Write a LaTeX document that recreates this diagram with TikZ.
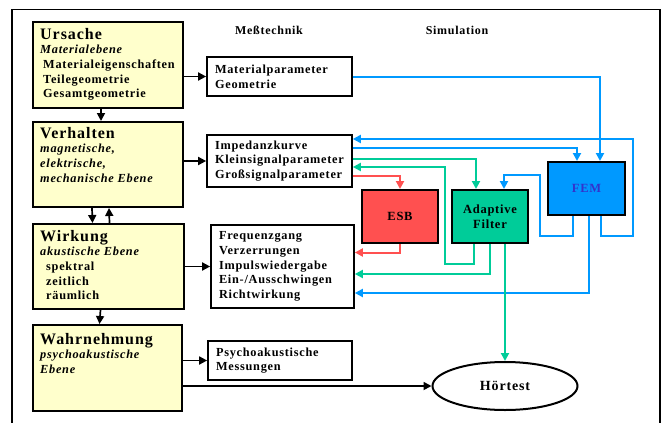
\documentclass[tikz,border=0pt]{standalone}
\usepackage{fontspec}
\setmainfont{Liberation Serif}[LetterSpace=6]
\usepackage{xcolor}
\usetikzlibrary{arrows.meta,shapes.geometric}

\definecolor{ebene}{HTML}{FFFFCC}
\definecolor{esbrot}{HTML}{FF5050}
\definecolor{filtergruen}{HTML}{00CC99}
\definecolor{femblau}{HTML}{0099FF}
\definecolor{femtext}{HTML}{3333CC}

\tikzset{
	ebenebox/.style={draw, line width=2pt, fill=ebene, minimum width=150pt, minimum height=86pt, inner sep=0pt},
	ebenetext/.style={anchor=north west, inner sep=0pt, align=left, font=\bfseries\fontsize{12.3}{14.6}\selectfont},
	messbox/.style={draw, line width=1.7pt, fill=white, text width=129pt, inner xsep=8pt, align=left,
		font=\bfseries\fontsize{12.3}{14.6}\selectfont},
	simbox/.style={draw, line width=2pt, minimum width=76pt, minimum height=53pt, align=center,
		font=\bfseries\fontsize{12.5}{14.5}\selectfont},
	pfeil/.style={line width=1.7pt, -{Triangle[length=8pt,width=8pt]}},
	blaupfeil/.style={pfeil, femblau, line width=2pt},
	gruenpfeil/.style={pfeil, filtergruen, line width=2pt},
	rotpfeil/.style={pfeil, esbrot, line width=2pt}
}

\newcommand{\titel}[1]{{\fontsize{16}{15}\selectfont #1}}

\begin{document}
\begin{tikzpicture}[x=1pt, y=-1pt]
	\useasboundingbox (0,0) rectangle (664,423);
	% outer frame
	\draw[line width=1.6pt] (12,423) -- (12,9.5) -- (660,9.5) -- (660,423);

	\node[font=\bfseries\fontsize{12}{14}\selectfont] (mess) at (269,30) {Meßtechnik};
	\node[font=\bfseries\fontsize{12}{14}\selectfont] (sim) at (457,30) {Simulation};

	% levels on the left
	\node[ebenebox] (urs) at (108,65) {};
	\node[ebenebox, minimum height=85pt] (verh) at (108,164.5) {};
	\node[ebenebox, minimum height=85pt, minimum width=151pt] (wirk) at (108.5,266.5) {};
	\node[ebenebox, minimum width=149pt] (wahr) at (107.5,368) {};

	\node[ebenetext] (urs-t) at ([shift={(8pt,-7pt)}]urs.north west)
		{\titel{Ursache}\\ \textit{Materialebene}\\ \hspace{3pt}Materialeigenschaften\\ \hspace{3pt}Teilegeometrie\\ \hspace{3pt}Gesamtgeometrie};
	\node[ebenetext] (verh-t) at ([shift={(8pt,-6pt)}]verh.north west)
		{\titel{Verhalten}\\ \textit{magnetische,}\\ \textit{elektrische,}\\ \textit{mechanische Ebene}};
	\node[ebenetext] (wirk-t) at ([shift={(8pt,-7pt)}]wirk.north west)
		{\titel{Wirkung}\\ \textit{akustische Ebene}\\ \hspace{6pt}spektral\\ \hspace{6pt}zeitlich\\ \hspace{6pt}räumlich};
	\node[ebenetext] (wahr-t) at ([shift={(8pt,-9pt)}]wahr.north west)
		{\titel{Wahrnehmung}\\ \textit{psychoakustische}\\ \textit{Ebene}};

	% measurement boxes
	\node[messbox, minimum height=39pt] (matpar) at (279.5,76.5) {Materialparameter\\Geometrie};
	\node[messbox, minimum height=52pt] (imp) at (279.5,161) {Impedanzkurve\\Kleinsignalparameter\\Großsignalparameter};
	\node[messbox, minimum height=83pt, text width=127pt] (freq) at (282.5,266.5)
		{Frequenzgang\\Verzerrungen\\Impulswiedergabe\\Ein-/Ausschwingen\\Richtwirkung};
	\node[messbox, minimum height=39pt, text width=128pt] (psy) at (280,360.5) {Psychoakustische\\Messungen};

	% simulation boxes
	\node[simbox, fill=esbrot] (esb) at (400,216.5) {ESB};
	\node[simbox, fill=filtergruen] (af) at (490,216.5) {Adaptive\\Filter};
	\node[simbox, fill=femblau, minimum width=77pt, text=femtext] (fem) at (586.5,188.5) {FEM};

	\node[draw, ellipse, line width=2pt, minimum width=145pt, minimum height=48pt,
		font=\bfseries\fontsize{14}{14}\selectfont] (hoer) at (505,386) {Hörtest};

	% black connections
	\draw[pfeil] ([xshift=-7pt]urs.south) -- ([xshift=-7pt]verh.north);
	\draw[pfeil] ([xshift=-16pt]verh.south) -- ([xshift=-16pt]wirk.north);
	\draw[pfeil] ([xshift=1pt]wirk.north) -- ([xshift=1pt]verh.south);
	\draw[pfeil] ([xshift=-8pt]wirk.south) -- ([xshift=-8pt]wahr.north);
	\draw[pfeil] (urs.east |- matpar.west) -- (matpar.west);
	\draw[pfeil] (verh.east |- imp.west) -- (imp.west);
	\draw[pfeil] (wirk.east |- freq.west) -- (freq.west);
	\draw[pfeil] (wahr.east |- psy.west) -- (psy.west);
	\draw[pfeil] (wahr.east |- hoer.west) -- (hoer.west);

	% FEM
	\draw[blaupfeil] (matpar.east) -| ([xshift=13.5pt]fem.north);
	\draw[blaupfeil] ([yshift=13pt]imp.east) -| ([xshift=-9.5pt]fem.north);
	\draw[blaupfeil] ([xshift=14.5pt]fem.south) -- ++(0,20) -- ++(32,0) |- ([yshift=22pt]imp.east);
	\draw[blaupfeil] ([xshift=-13.5pt]fem.south) -- ++(0,20) -- ++(-33,0) -- ++(0,-61) -| ([xshift=14pt]af.north);
	\draw[blaupfeil] ([xshift=2.5pt]fem.south) |- ([yshift=-26.5pt]freq.east);

	% adaptive filter
	\draw[gruenpfeil] ([yshift=2pt]imp.east) -| ([xshift=-14pt]af.north);
	\draw[gruenpfeil] ([xshift=-16pt]af.south) -- ++(0,20) -- ++(-29,0) |- ([yshift=-6pt]imp.east);
	\draw[gruenpfeil] (af.south) |- ([yshift=-7.5pt]freq.east);
	\draw[gruenpfeil] ([xshift=15pt]af.south) -- (hoer.north);

	% ESB
	\draw[rotpfeil] ([yshift=-15pt]imp.east) -| (esb.north);
	\draw[rotpfeil] (esb.south) |- ([yshift=14pt]freq.east);
\end{tikzpicture}
\end{document}
